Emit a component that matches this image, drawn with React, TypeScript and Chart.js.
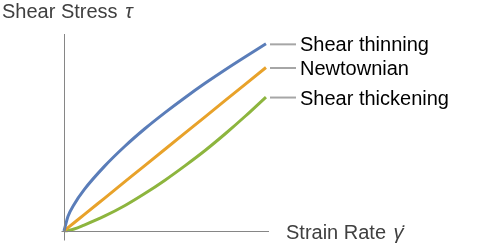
import React, { useEffect, useRef } from "react";
import { Chart, registerables } from "chart.js";

Chart.register(...registerables);

const strainRate = [0, 0.02, 0.05, 0.1, 0.2, 0.3, 0.4, 0.5, 0.6, 0.7, 0.8, 0.9, 1.0];
const shearThinning = [0, 0.075, 0.135, 0.21, 0.328, 0.429, 0.519, 0.601, 0.678, 0.751, 0.82, 0.886, 0.95];
const newtonian = [0, 0.017, 0.042, 0.083, 0.166, 0.249, 0.332, 0.415, 0.498, 0.581, 0.664, 0.747, 0.83];
const shearThickening = [0, 0.003, 0.01, 0.03, 0.075, 0.128, 0.19, 0.258, 0.332, 0.41, 0.495, 0.585, 0.68];

const seriesNames = ["Shear thinning", "Newtownian", "Shear thickening"];
const seriesColors = ["#5A7DB9", "#E8A22A", "#8DB53E"];
const yTitle = ["Shear Stress ", "τ"];
const xTitle = ["Strain Rate ", "γ̇"];

const FONT = '"Liberation Sans", Arial, sans-serif';
const FS = 20;

const overlayPlugin = {
  id: "overlay",
  afterDraw(chart: any) {
    const ctx = chart.ctx;
    const area = chart.chartArea;
    const xs = chart.scales.x;
    const ys = chart.scales.y;
    const x0 = Math.round(xs.getPixelForValue(0)) + 0.5;
    const y0 = Math.round(ys.getPixelForValue(0)) + 0.5;
    ctx.save();
    ctx.strokeStyle = "#868686";
    ctx.lineWidth = 1;
    ctx.beginPath();
    ctx.moveTo(x0, area.top);
    ctx.lineTo(x0, y0 + 9);
    ctx.moveTo(x0 - 3, y0);
    ctx.lineTo(area.right, y0);
    ctx.stroke();

    ctx.font = `${FS}px ${FONT}`;
    ctx.textBaseline = "alphabetic";
    chart.data.datasets.forEach((ds: any, i: number) => {
      const last = ds.data[ds.data.length - 1];
      const ly = ys.getPixelForValue(last.y) + 0.5;
      const lx = area.right + 1;
      ctx.strokeStyle = "#A6A6A6";
      ctx.lineWidth = 2;
      ctx.beginPath();
      ctx.moveTo(lx, ly);
      ctx.lineTo(lx + 26, ly);
      ctx.stroke();
      ctx.fillStyle = "#000000";
      ctx.fillText(seriesNames[i], lx + 30, ly + 7);
    });

    ctx.fillStyle = "#404040";
    ctx.font = `${FS}px ${FONT}`;
    ctx.fillText(yTitle[0], 2, 17.5);
    const w1 = ctx.measureText(yTitle[0]).width;
    ctx.font = `italic ${FS}px ${FONT}`;
    ctx.fillText(yTitle[1], 4 + w1, 17.5);

    ctx.font = `${FS}px ${FONT}`;
    const tx = area.right + 17;
    ctx.fillText(xTitle[0], tx, y0 + 7);
    const w2 = ctx.measureText(xTitle[0]).width;
    ctx.font = `italic ${FS}px ${FONT}`;
    ctx.fillText(xTitle[1], tx + w2 + 2, y0 + 7);
    ctx.restore();
  },
};

export default function App() {
  const ref = useRef<HTMLCanvasElement | null>(null);
  useEffect(() => {
    if (!ref.current) return;
    const mk = (vals: number[]) => strainRate.map((x, i) => ({ x, y: vals[i] }));
    const chart = new Chart(ref.current, {
      type: "line",
      data: {
        datasets: [shearThinning, newtonian, shearThickening].map((vals, i) => ({
          label: seriesNames[i],
          data: mk(vals),
          borderColor: seriesColors[i],
          backgroundColor: seriesColors[i],
          borderWidth: 3,
          pointRadius: 0,
          fill: false,
          cubicInterpolationMode: "monotone" as const,
          clip: false as any,
        })),
      },
      options: {
        responsive: false,
        animation: false,
        events: [],
        layout: { padding: { left: 64, right: 219, top: 34, bottom: 15 } },
        plugins: { legend: { display: false }, tooltip: { enabled: false }, title: { display: false } },
        scales: {
          x: { type: "linear", display: false, min: 0, max: 1.015 },
          y: { type: "linear", display: false, min: 0, max: 1 },
        },
      },
      plugins: [overlayPlugin],
    });
    return () => chart.destroy();
  }, []);
  return (
    <div style={{ position: "fixed", left: 0, top: 0, width: 488, height: 246, background: "#fff" }}>
      <canvas ref={ref} width={488} height={246} style={{ width: 488, height: 246, display: "block" }} />
    </div>
  );
}
